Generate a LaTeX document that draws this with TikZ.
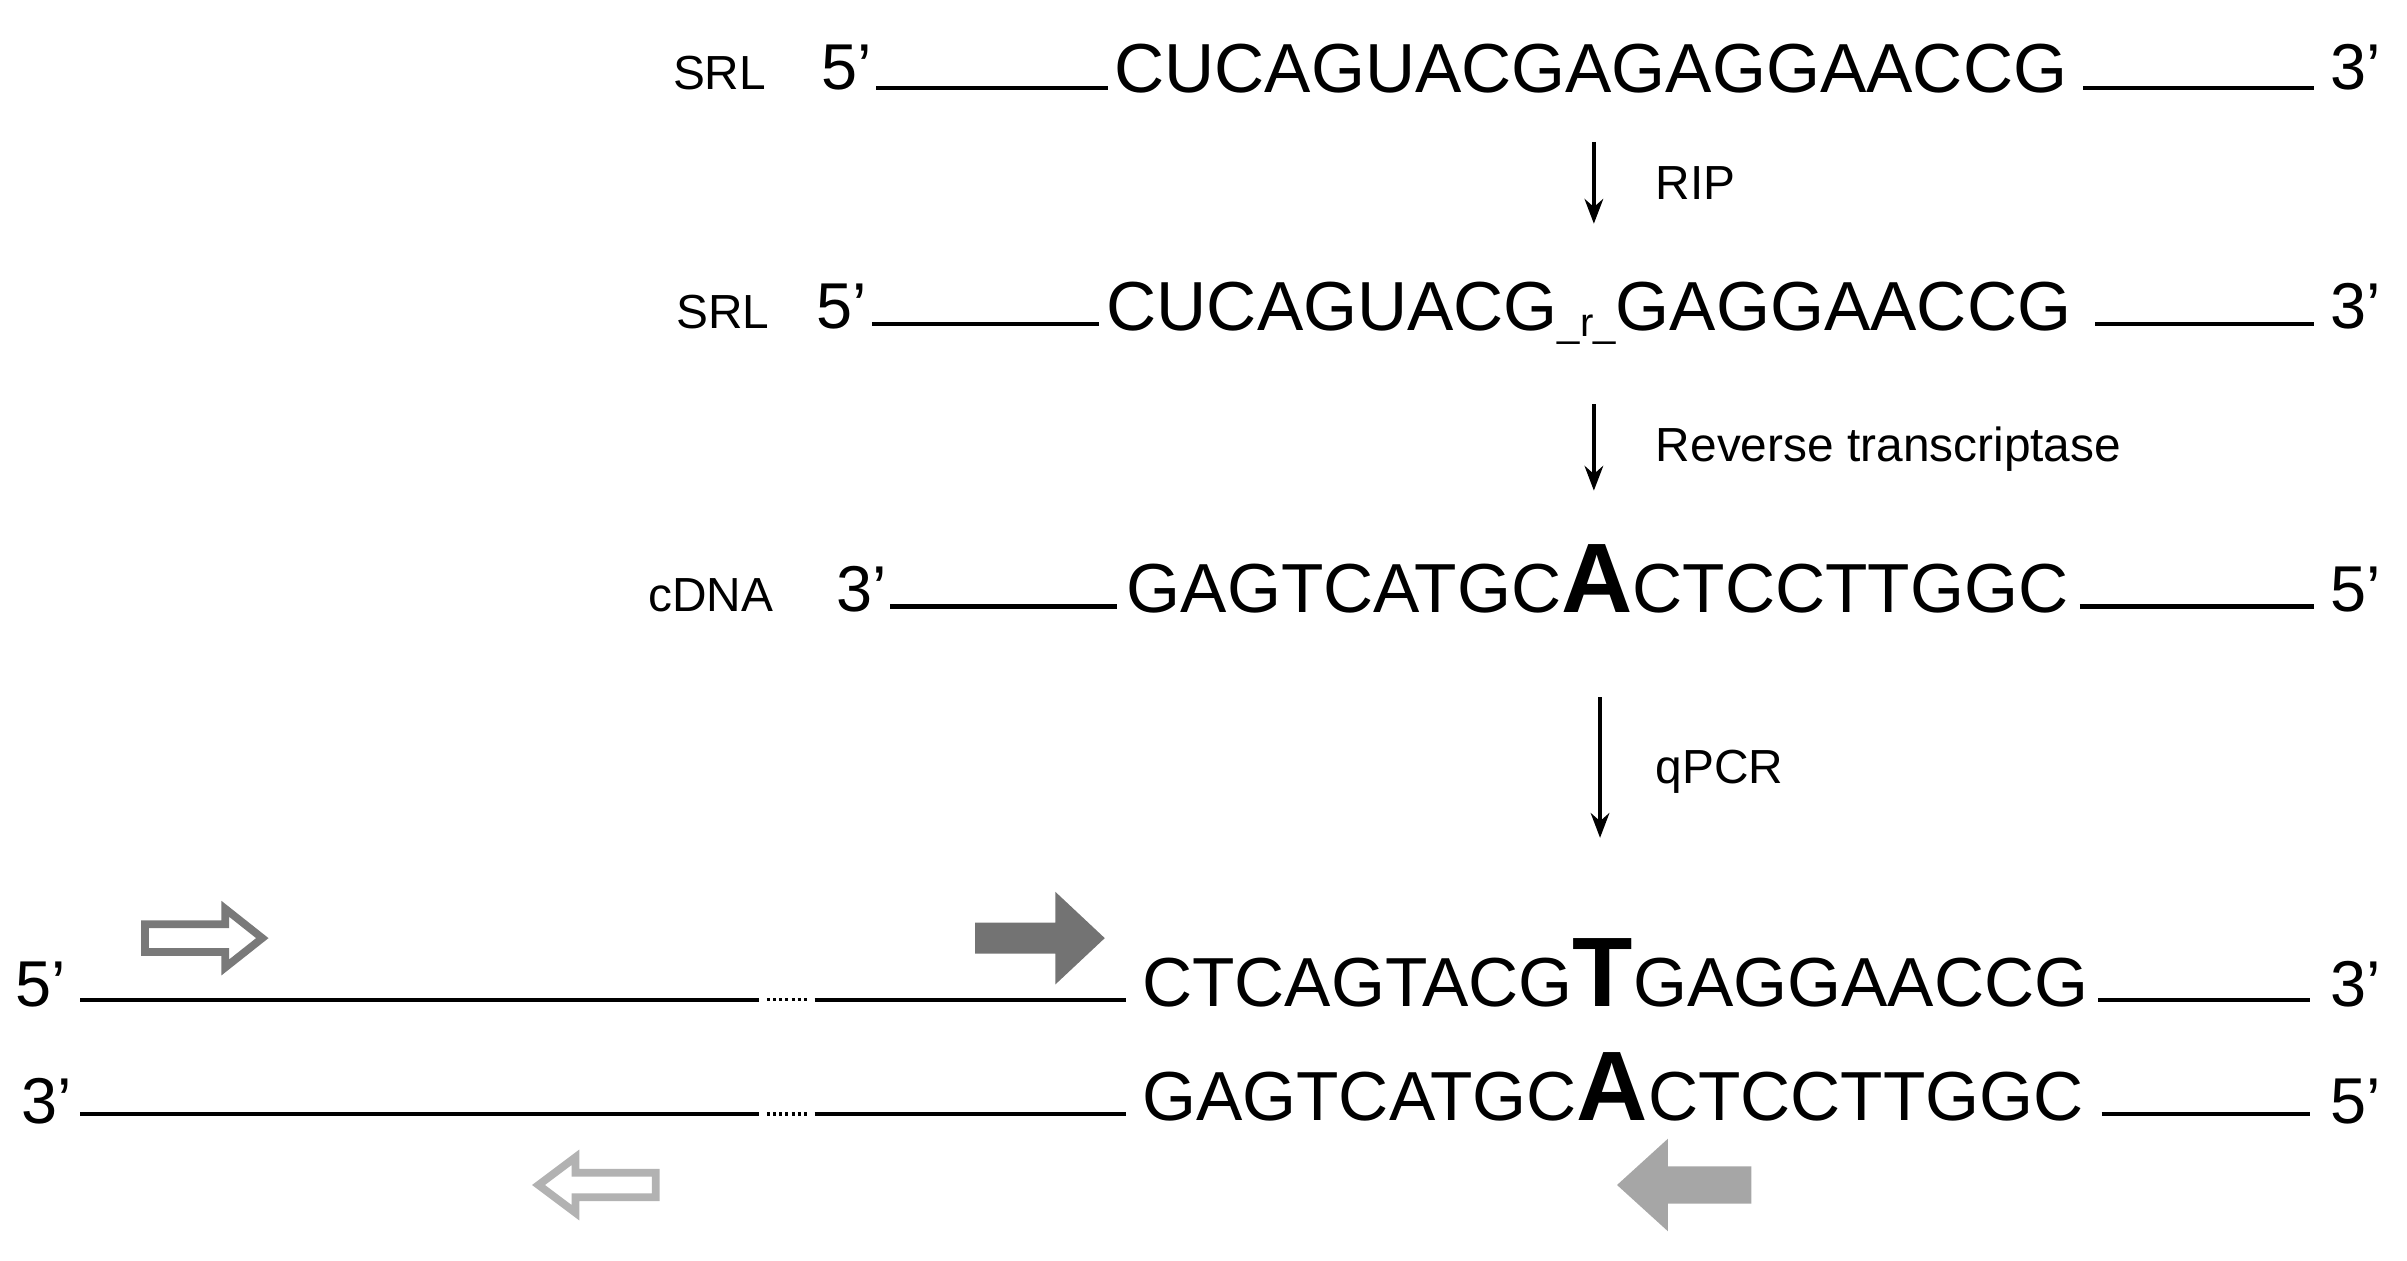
\documentclass[tikz,border=0pt]{standalone}
\usepackage{fontspec}
\setmainfont{Liberation Sans}
\usetikzlibrary{arrows.meta}
\begin{document}
\begin{tikzpicture}[x=1pt,y=-1pt,
 lab/.style={inner sep=0,anchor=base west,font=\fontsize{31}{31}\selectfont},
 seq/.style={inner sep=0,anchor=base west,font=\fontsize{45}{45}\selectfont},
 endl/.style={inner sep=0,anchor=base west,font=\fontsize{42}{42}\selectfont},
 ln/.style={line width=3pt},
 stp/.style={line width=2.8pt,-{Stealth[length=16pt,width=12pt]}},
 hol/.style={line width=5pt,line join=miter,fill=white},
 fil/.style={draw=none}]
\useasboundingbox (0,0) rectangle (1560,817);
% row 1
\node[lab] (l1) at (436,58) {SRL};
\node[endl] (a1) at (532,58) {5’};
\coordinate (p1) at (568,57); \coordinate (q1) at (718,57);
\node[seq] (s1) at (722,60) {CUCAGUACGAGAGGAACCG};
\coordinate (p1b) at (1350,57); \coordinate (q1b) at (1500,57);
\node[endl] (b1) at (1510,58) {3’};
\draw[ln] (p1)--(q1); \draw[ln] (p1b)--(q1b);
\coordinate (r1) at (1033,92); \coordinate (r1e) at (1033,145);
\draw[stp] (r1)--(r1e);
\node[lab] (t1) at (1073,129) {RIP};
% row 2
\node[lab] (l2) at (438,213) {SRL};
\node[endl] (a2) at (529,213) {5’};
\coordinate (p2) at (565,210); \coordinate (q2) at (712,210);
\node[seq] (s2) at (717,214) {CUCAGUACG\raisebox{-4pt}{\fontsize{26}{26}\selectfont\_r\_}GAGGAACCG};
\coordinate (p2b) at (1358,210); \coordinate (q2b) at (1500,210);
\node[endl] (b2) at (1510,213) {3’};
\draw[ln] (p2)--(q2); \draw[ln] (p2b)--(q2b);
\coordinate (r2) at (1033,262); \coordinate (r2e) at (1033,318);
\draw[stp] (r2)--(r2e);
\node[lab] (t2) at (1073,299) {Reverse transcriptase};
% row 3
\node[lab] (l3) at (420,396) {cDNA};
\node[endl] (a3) at (542,396) {3’};
\coordinate (p3) at (577,393); \coordinate (q3) at (724,393);
\node[seq] (s3) at (730,397) {GAGTCATGC{\fontsize{64}{64}\selectfont\bfseries A}CTCCTTGGC};
\coordinate (p3b) at (1348,393); \coordinate (q3b) at (1500,393);
\node[endl] (b3) at (1510,396) {5’};
\draw[ln] (p3)--(q3); \draw[ln] (p3b)--(q3b);
\coordinate (r3) at (1037,452); \coordinate (r3e) at (1037,543);
\draw[stp] (r3)--(r3e);
\node[lab] (t3) at (1073,508) {qPCR};
% row 4
\node[endl] (a4) at (10,652) {5’};
\coordinate (p4) at (52,648); \coordinate (q4) at (492,648);
\coordinate (p4c) at (528,648); \coordinate (q4c) at (730,648);
\node[seq] (s4) at (740,652) {CTCAGTACG{\fontsize{64}{64}\selectfont\bfseries T}GAGGAACCG};
\coordinate (p4b) at (1360,648); \coordinate (q4b) at (1497,648);
\node[endl] (b4) at (1510,652) {3’};
\draw[ln] (p4)--(q4); \draw[ln] (p4c)--(q4c); \draw[ln] (p4b)--(q4b);
\draw[line width=2pt,dash pattern=on 2pt off 2pt] (q4)++(5,0)--++(26,0);
% row 5
\node[endl] (a5) at (14,728) {3’};
\coordinate (p5) at (52,722); \coordinate (q5) at (492,722);
\coordinate (p5c) at (528,722); \coordinate (q5c) at (730,722);
\node[seq] (s5) at (740,726) {GAGTCATGC{\fontsize{64}{64}\selectfont\bfseries A}CTCCTTGGC};
\coordinate (p5b) at (1362,722); \coordinate (q5b) at (1497,722);
\node[endl] (b5) at (1510,728) {5’};
\draw[ln] (p5)--(q5); \draw[ln] (p5c)--(q5c); \draw[ln] (p5b)--(q5b);
\draw[line width=2pt,dash pattern=on 2pt off 2pt] (q5)++(5,0)--++(26,0);
% primers
\draw[hol,draw=gray!95!black] (94,599)--(146,599)--(146,589)--(170,608)--(146,627)--(146,617)--(94,617)--cycle;
\fill[gray!90!black] (632,598)--(684,598)--(684,578)--(716,608)--(684,638)--(684,618)--(632,618)--cycle;
\draw[hol,draw=gray!60] (425,760)--(373,760)--(373,750)--(349,768)--(373,786)--(373,776)--(425,776)--cycle;
\fill[gray!70] (1135,756)--(1081,756)--(1081,738)--(1048,768)--(1081,798)--(1081,780)--(1135,780)--cycle;
\end{tikzpicture}
\end{document}
